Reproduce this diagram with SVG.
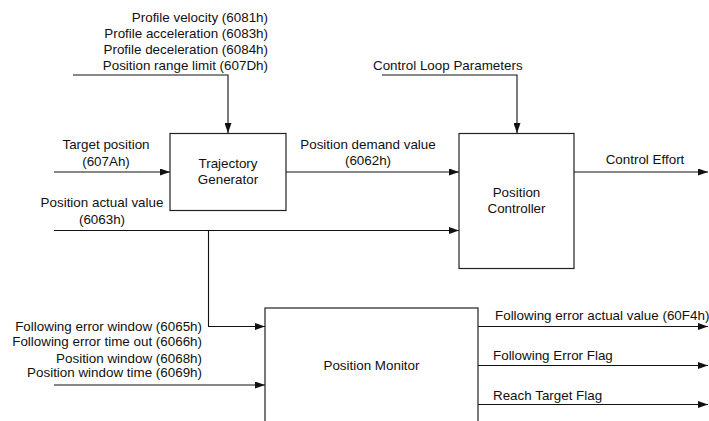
<svg xmlns="http://www.w3.org/2000/svg" width="709" height="421" viewBox="0 0 709 421">
  <style>
    text { font-family: "Liberation Sans", Arial, sans-serif; font-size: 13.4px; fill: #111; }
    .box { fill: #fff; stroke: #222; stroke-width: 1.2; }
    .wire { fill: none; stroke: #111; stroke-width: 1.1; }
    .m { text-anchor: middle; }
    .e { text-anchor: end; }
  </style>
  <defs>
    <marker id="arr" viewBox="0 0 10 7" refX="10" refY="3.5" markerWidth="10" markerHeight="7" markerUnits="userSpaceOnUse" orient="auto">
      <path d="M0,0 L10,3.5 L0,7 Z" fill="#111"/>
    </marker>
  </defs>
  <rect width="709" height="421" fill="#fff"/>

  <!-- signal lines -->
  <g id="connectors">
    <path class="wire" d="M73,75 H228 V133" marker-end="url(#arr)"/>
    <path class="wire" d="M54,172 H170" marker-end="url(#arr)"/>
    <path class="wire" d="M286,172 H459" marker-end="url(#arr)"/>
    <path class="wire" d="M382,75 H517 V133" marker-end="url(#arr)"/>
    <path class="wire" d="M574,172 H708" marker-end="url(#arr)"/>
    <path class="wire" d="M54,230.5 H459" marker-end="url(#arr)"/>
    <path class="wire" d="M208.5,230.5 V326.5 H265" marker-end="url(#arr)"/>
    <path class="wire" d="M54,385 H265" marker-end="url(#arr)"/>
    <path class="wire" d="M478,326.5 H708" marker-end="url(#arr)"/>
    <path class="wire" d="M478,365.5 H708" marker-end="url(#arr)"/>
    <path class="wire" d="M478,404.5 H708" marker-end="url(#arr)"/>
  </g>

  <!-- signal labels -->
  <g id="labels">
    <text class="e" x="268" y="21.5">Profile velocity (6081h)</text>
    <text class="e" x="268" y="37.5">Profile acceleration (6083h)</text>
    <text class="e" x="268" y="54">Profile deceleration (6084h)</text>
    <text class="e" x="268" y="70">Position range limit (607Dh)</text>
    <text class="m" x="106" y="149">Target position</text>
    <text class="m" x="106" y="165.5">(607Ah)</text>
    <text class="m" x="102" y="206.5">Position actual value</text>
    <text class="m" x="102" y="223.5">(6063h)</text>
    <text x="373" y="70">Control Loop Parameters</text>
    <text class="m" x="368" y="149">Position demand value</text>
    <text class="m" x="368" y="165">(6062h)</text>
    <text class="m" x="645" y="164">Control Effort</text>
    <text class="e" x="202" y="331">Following error window (6065h)</text>
    <text class="e" x="202" y="346">Following error time out (6066h)</text>
    <text class="e" x="202" y="362.5">Position window (6068h)</text>
    <text class="e" x="202" y="377">Position window time (6069h)</text>
    <text x="495" y="320">Following error actual value (60F4h)</text>
    <text x="493" y="360">Following Error Flag</text>
    <text x="493" y="400">Reach Target Flag</text>
  </g>

  <g id="trajectory-generator">
    <rect class="box" x="170" y="133.5" width="116" height="77"/>
    <text class="m" x="228" y="168">Trajectory</text>
    <text class="m" x="228" y="183.5">Generator</text>
  </g>

  <g id="position-controller">
    <rect class="box" x="459" y="133.5" width="115" height="135"/>
    <text class="m" x="516.5" y="197">Position</text>
    <text class="m" x="516.5" y="212.5">Controller</text>
  </g>

  <g id="position-monitor">
    <rect class="box" x="265" y="308" width="213" height="130"/>
    <text class="m" x="371.5" y="370">Position Monitor</text>
  </g>
</svg>
